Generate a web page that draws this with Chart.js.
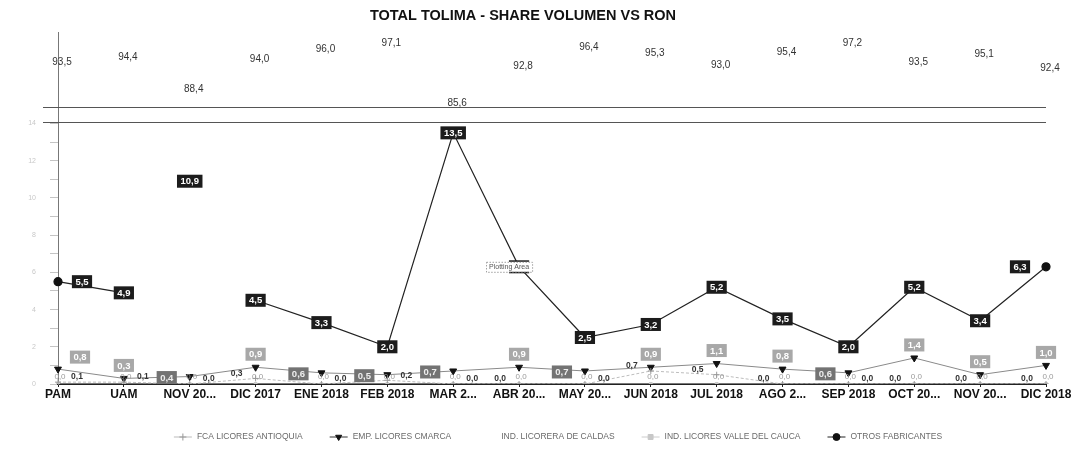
<!DOCTYPE html>
<html>
<head>
<meta charset="utf-8">
<script src="https://cdn.jsdelivr.net/npm/chart.js@4.4.1/dist/chart.umd.min.js"></script>
<style>
  html, body { margin: 0; padding: 0; background: #fff; }
  #wrap { width: 1076px; height: 451px; position: relative; }
</style>
</head>
<body>
<div id="wrap"><canvas id="chart"></canvas></div>
<script>
// ─────────────────────────────────────────────────
// Data (share volumen %, Tolima)
// ─────────────────────────────────────────────────
const categories = ['PAM', 'UAM', 'NOV 20...', 'DIC 2017', 'ENE 2018', 'FEB 2018', 'MAR 2...', 'ABR 20...',
    'MAY 20...', 'JUN 2018', 'JUL 2018', 'AGO 2...', 'SEP 2018', 'OCT 20...', 'NOV 20...', 'DIC 2018'];
const antioquia = [0.1, 0.1, 0.0, 0.3, 0.0, 0.2, 0.0, 0.0, 0.0, 0.7, 0.5, 0.0, 0.0, 0.0, 0.0, 0.0];
const cmarca    = [0.8, 0.3, 0.4, 0.9, 0.6, 0.5, 0.7, 0.9, 0.7, 0.9, 1.1, 0.8, 0.6, 1.4, 0.5, 1.0];
const caldas    = [93.5, 94.4, 88.4, 94.0, 96.0, 97.1, 85.6, 92.8, 96.4, 95.3, 93.0, 95.4, 97.2, 93.5, 95.1, 92.4];
const valle     = [0.0, 0.0, 0.0, 0.0, 0.0, 0.0, 0.0, 0.0, 0.0, 0.0, 0.0, 0.0, 0.0, 0.0, 0.0, 0.0];
const otros     = [5.5, 4.9, 10.9, 4.5, 3.3, 2.0, 13.5, 6.3, 2.5, 3.2, 5.2, 3.5, 2.0, 5.2, 3.4, 6.3];
const yTicks    = [0, 1, 2, 3, 4, 5, 6, 7, 8, 9, 10, 11, 12, 13, 14];

// label placement (style only)
const cmarcaSide    = ['tr', 't', 'l', 't', 'l', 'l', 'l', 't', 'l', 't', 't', 't', 'l', 't', 't', 't'];
const antioquiaSide = ['r', 'r', 'r', 'l', 'r', 'r', 'r', 'l', 'r', 'l', 'l', 'l', 'r', 'l', 'l', 'l'];

const FONT = '"Liberation Sans", Arial, sans-serif';
const fmt = v => v.toFixed(1).replace('.', ',');

function boxLabel(ctx, text, x, y, bg, fg) {
    ctx.font = 'bold 9.5px ' + FONT;
    const w = ctx.measureText(text).width + 7, h = 13;
    ctx.fillStyle = bg; ctx.fillRect(x - w / 2, y - h / 2, w, h);
    ctx.fillStyle = fg; ctx.textAlign = 'center'; ctx.textBaseline = 'middle';
    ctx.fillText(text, x, y + 0.5);
}

function plainLabel(ctx, text, x, y, color, size, weight) {
    ctx.font = (weight || 'normal') + ' ' + size + 'px ' + FONT;
    ctx.fillStyle = color; ctx.textAlign = 'center'; ctx.textBaseline = 'middle';
    ctx.fillText(text, x, y);
}

// ─────────────────────────────────────────────────
// Axis break lines, data labels, legend
// ─────────────────────────────────────────────────
const breakLines = {
    id: 'breakLines',
    beforeDatasetsDraw(chart) {
        const { ctx, chartArea, scales } = chart;
        ctx.save();
        ctx.strokeStyle = '#555'; ctx.lineWidth = 1.2;
        [14.1, 14.9].forEach(v => {
            const py = Math.round(scales.y.getPixelForValue(v)) + 0.5;
            ctx.beginPath(); ctx.moveTo(chartArea.left - 15, py); ctx.lineTo(chartArea.right, py); ctx.stroke();
        });
        ctx.restore();
    }
};

const dataLabels = {
    id: 'dataLabels',
    afterDatasetsDraw(chart) {
        const ctx = chart.ctx;
        ctx.save();

        // VALLE DEL CAUCA
        chart.getDatasetMeta(3).data.forEach((p, i) => {
            plainLabel(ctx, fmt(valle[i]), p.x + 2, p.y - 7, '#9a9a9a', 8);
        });
        // FCA LICORES ANTIOQUIA
        chart.getDatasetMeta(0).data.forEach((p, i) => {
            const dx = antioquiaSide[i] === 'r' ? 19 : -19;
            plainLabel(ctx, fmt(antioquia[i]), p.x + dx, p.y - 5, '#333', 8.5, 'bold');
        });
        // EMP. LICORES CMARCA
        chart.getDatasetMeta(1).data.forEach((p, i) => {
            const s = cmarcaSide[i];
            if (s === 'l') boxLabel(ctx, fmt(cmarca[i]), p.x - 23, p.y + 1, '#737373', '#eee');
            else if (s === 'tr') boxLabel(ctx, fmt(cmarca[i]), p.x + 22, p.y - 12, '#a8a8a8', '#fff');
            else boxLabel(ctx, fmt(cmarca[i]), p.x, p.y - 13, '#a8a8a8', '#fff');
        });
        // IND. LICORERA DE CALDAS (top band)
        chart.getDatasetMeta(2).data.forEach((p, i) => {
            plainLabel(ctx, fmt(caldas[i]), p.x + 4, p.y, '#333', 10);
        });
        // OTROS FABRICANTES
        const last = otros.length - 1;
        chart.getDatasetMeta(4).data.forEach((p, i) => {
            const dx = i === 0 ? 24 : (i === last ? -26 : 0);
            boxLabel(ctx, fmt(otros[i]), p.x + dx, p.y, '#1c1c1c', '#fff');
        });

        // scanned tooltip artefact over ABR point
        const pa = chart.getDatasetMeta(4).data[7];
        ctx.font = '7px ' + FONT;
        const tw = ctx.measureText('Plotting Area').width + 6;
        ctx.fillStyle = '#fff'; ctx.fillRect(pa.x - 10 - tw / 2, pa.y - 5, tw, 10);
        ctx.setLineDash([1.5, 1.5]); ctx.strokeStyle = '#888'; ctx.lineWidth = 0.8;
        ctx.strokeRect(pa.x - 10 - tw / 2 + 0.5, pa.y - 4.5, tw, 10);
        ctx.setLineDash([]);
        plainLabel(ctx, 'Plotting Area', pa.x - 10, pa.y + 0.5, '#555', 7);

        ctx.restore();
    }
};

// legend drawn by hand: line + marker, like the source export
const lineLegend = {
    id: 'lineLegend',
    afterDraw(chart) {
        const ctx = chart.ctx;
        const sets = chart.data.datasets;
        const cy = 437, gap = 27, markW = 18;
        ctx.save();
        ctx.font = '8.5px ' + FONT;
        const widths = sets.map(d => markW + 5 + ctx.measureText(d.label).width);
        const total = widths.reduce((a, b) => a + b, 0) + gap * (sets.length - 1);
        let x = 558 - total / 2;
        sets.forEach((d, i) => {
            ctx.strokeStyle = d.legendLine || 'transparent'; ctx.lineWidth = 1;
            ctx.beginPath(); ctx.moveTo(x, cy); ctx.lineTo(x + markW, cy); ctx.stroke();
            if (d.pointRadius > 0) {
                ctx.fillStyle = d.pointBackgroundColor; ctx.strokeStyle = d.pointBorderColor;
                Chart.helpers.drawPoint(ctx, {
                    pointStyle: d.pointStyle, rotation: d.rotation || 0, radius: 3.5, borderWidth: 1
                }, x + markW / 2, cy);
            }
            ctx.fillStyle = '#6a6a6a'; ctx.textAlign = 'left'; ctx.textBaseline = 'middle';
            ctx.fillText(d.label, x + markW + 5, cy);
            x += widths[i] + gap;
        });
        ctx.restore();
    }
};

// ─────────────────────────────────────────────────
// Chart
// ─────────────────────────────────────────────────
const ctx = document.getElementById('chart').getContext('2d');
new Chart(ctx, {
    type: 'line',
    data: {
        labels: categories,
        datasets: [
            {
                label: 'FCA LICORES ANTIOQUIA', data: antioquia, yAxisID: 'y',
                borderColor: '#bdbdbd', borderWidth: 1, borderDash: [3, 2], legendLine: '#bbb',
                pointStyle: 'cross', pointRadius: 3, pointBorderColor: '#999', pointBackgroundColor: '#999', pointBorderWidth: 1
            },
            {
                label: 'EMP. LICORES CMARCA', data: cmarca, yAxisID: 'y',
                borderColor: '#8a8a8a', borderWidth: 1, legendLine: '#333',
                pointStyle: 'triangle', rotation: 180, pointRadius: 4,
                pointBackgroundColor: '#111', pointBorderColor: '#111'
            },
            {
                label: 'IND. LICORERA DE CALDAS', data: caldas, yAxisID: 'yTop',
                showLine: false, borderColor: 'transparent', backgroundColor: 'transparent',
                pointRadius: 0, pointStyle: 'line', pointBorderColor: 'transparent'
            },
            {
                label: 'IND. LICORES VALLE DEL CAUCA', data: valle, yAxisID: 'y',
                borderColor: '#d0d0d0', borderWidth: 1, legendLine: '#ccc',
                pointStyle: 'rect', pointRadius: 2, pointBackgroundColor: '#c8c8c8', pointBorderColor: '#c8c8c8'
            },
            {
                label: 'OTROS FABRICANTES', data: otros, yAxisID: 'y',
                borderColor: '#222', borderWidth: 1.2, legendLine: '#222',
                pointStyle: 'circle', pointRadius: 4, pointBackgroundColor: '#111', pointBorderColor: '#111',
                segment: {
                    borderColor: c => (c.p0DataIndex === 1 || c.p0DataIndex === 2) ? 'transparent' : '#222'
                }
            }
        ]
    },
    options: {
        responsive: true, maintainAspectRatio: false, animation: false,
        layout: { padding: { left: 0, right: 30, top: 0, bottom: 39 } },
        plugins: {
            title: {
                display: true, text: 'TOTAL TOLIMA - SHARE VOLUMEN VS RON', color: '#111',
                font: { size: 14.5, weight: 'bold', family: FONT }, padding: { top: 7, bottom: 8 }
            },
            legend: { display: false },
            tooltip: { enabled: false }
        },
        scales: {
            x: {
                offset: false,
                grid: { drawOnChartArea: false, tickLength: 3, color: '#222' },
                border: { color: '#222', width: 2 },
                ticks: {
                    color: '#111', font: { size: 12, weight: 'bold', family: FONT },
                    maxRotation: 0, autoSkip: false, padding: 0
                },
                afterFit: s => { s.height = 28; }
            },
            y: {
                min: 0, max: 18.9,
                afterBuildTicks: s => { s.ticks = yTicks.map(v => ({ value: v })); },
                grid: { drawOnChartArea: false, tickLength: 8, color: '#c4c4c4' },
                border: { color: '#777', width: 1 },
                ticks: {
                    color: '#c8c8c8', font: { size: 7, family: FONT }, padding: 14,
                    callback: v => (v % 2 === 0 ? v : '')
                },
                afterFit: s => { s.width = 58; }
            },
            yTop: { display: false, min: 31.75, max: 99.25 }
        }
    },
    plugins: [breakLines, dataLabels, lineLegend]
});
</script>
</body>
</html>
